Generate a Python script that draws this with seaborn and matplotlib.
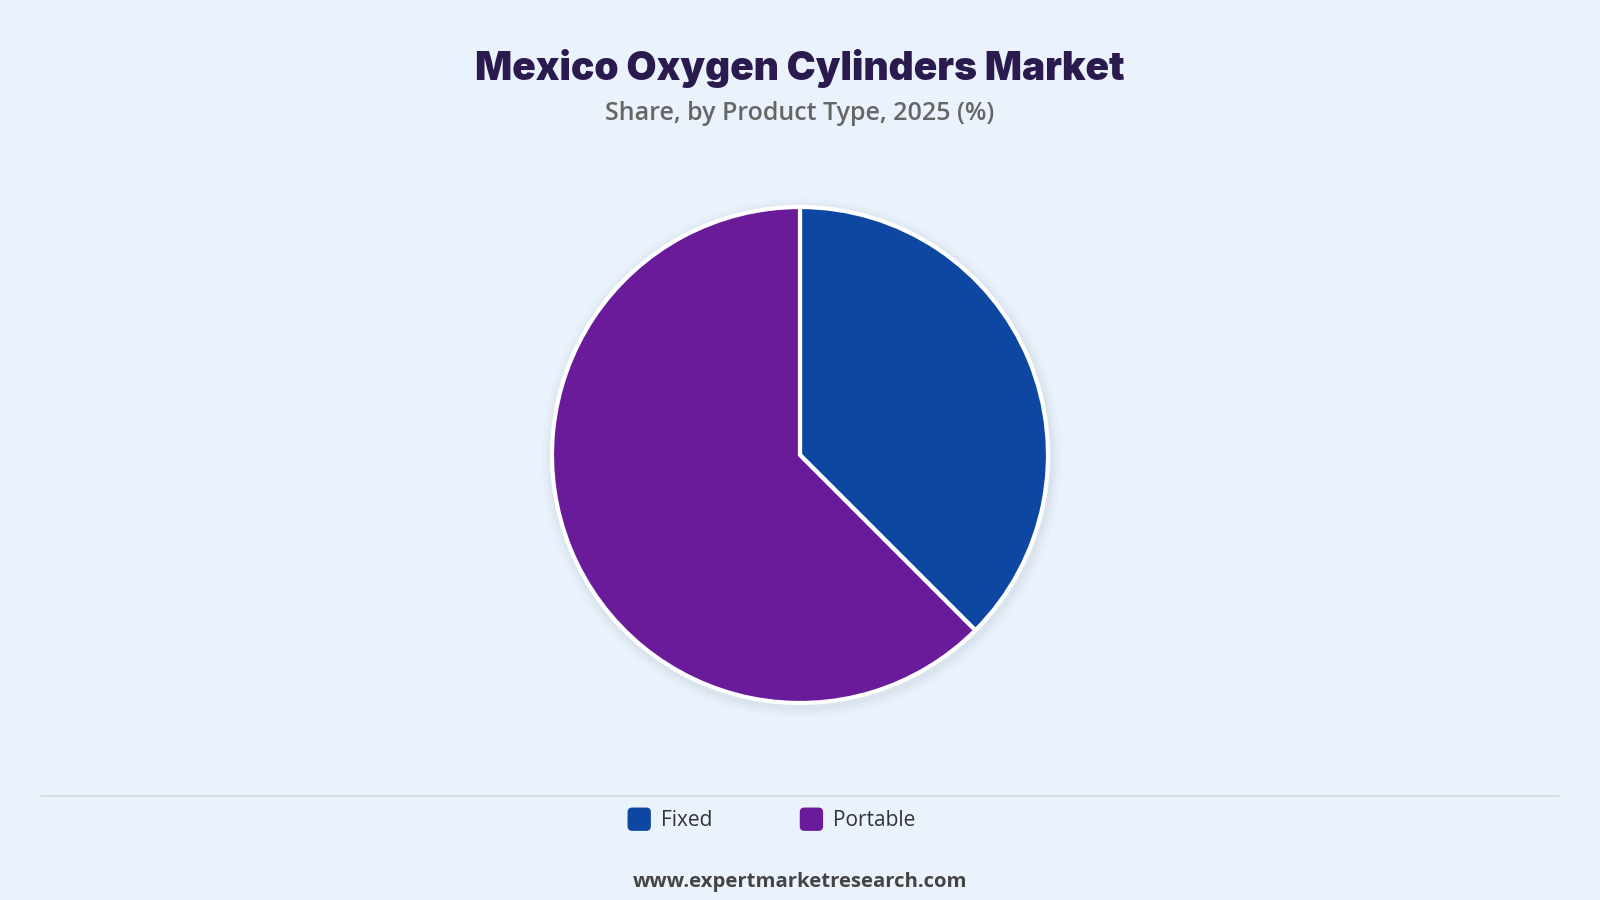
import numpy as np
import matplotlib
matplotlib.use("Agg")
import matplotlib.pyplot as plt
import seaborn as sns
from matplotlib.lines import Line2D
from matplotlib.patches import Circle, Patch, FancyBboxPatch
from matplotlib.legend_handler import HandlerPatch

# Data

categories = ["Fixed", "Portable"]
shares = [37.5, 62.5]
colors = ["#0D47A1", "#6A1B9A"]

title = "Mexico Oxygen Cylinders Market"
subtitle = "Share, by Product Type, 2025 (%)"
footer = "www.expertmarketresearch.com"

bg = "#EAF2FB"

sns.set_theme(style="white")
plt.rcParams["font.family"] = ["Open Sans", "DejaVu Sans"]


class RoundSquare(HandlerPatch):
    # rounded square legend keys
    def create_artists(self, legend, orig_handle, xdescent, ydescent,
                       width, height, fontsize, trans):
        s = fontsize * 1.12
        cx = -xdescent + width / 2
        cy = -ydescent + height / 2
        p = FancyBboxPatch(
            (cx - s / 2, cy - s / 2), s, s,
            boxstyle="round,pad=0,rounding_size=%f" % (s * 0.2),
            fc=orig_handle.get_facecolor(), ec="none", transform=trans,
        )
        return [p]


fig = plt.figure(figsize=(16, 9), dpi=100)
fig.patch.set_facecolor(bg)

# Pie axes (600x600 px, radius 1 -> 248 px)

W, H = 1600, 900
size = 600
cx, cy = 800, 455
ax = fig.add_axes([(cx - size / 2) / W, 1 - (cy + size / 2) / H, size / W, size / H])
ax.set_facecolor(bg)

# soft shadow
for r, a in [(1.045, 0.03), (1.03, 0.04), (1.018, 0.06)]:
    ax.add_patch(Circle((0.006, -0.012), r, color="#7a8aa0", alpha=a, lw=0, zorder=0))

ax.pie(
    shares,
    colors=colors,
    startangle=90,
    counterclock=False,
    radius=1,
    wedgeprops=dict(edgecolor="white", linewidth=3, joinstyle="miter"),
)

lim = (size / 2) / 248
ax.set_xlim(-lim, lim)
ax.set_ylim(-lim, lim)
ax.set_aspect("equal")
ax.axis("off")

# Titles

fig.text(0.5, 1 - 68 / H, title, ha="center", va="center",
         fontsize=28, fontweight="black", color="#2A1A4E",
         family=["Inter", "DejaVu Sans"])
fig.text(0.5, 1 - 113 / H, subtitle, ha="center", va="center",
         fontsize=18, fontweight="semibold", color="#666666")

# Divider line

fig.add_artist(Line2D([41 / W, 1559 / W], [1 - 796 / H, 1 - 796 / H],
                      color="#D3D8DE", lw=1.2))

# Legend

handles = [Patch(facecolor=c) for c in colors]
leg = fig.legend(
    handles, categories,
    loc="center", bbox_to_anchor=(0.482, 1 - 821 / H),
    ncol=2, frameon=False,
    handler_map={Patch: RoundSquare()},
    handlelength=1.15, handletextpad=0.45, columnspacing=4.2,
    prop={"size": 15},
)
for t in leg.get_texts():
    t.set_color("#333333")

# Footer

fig.text(0.5, 1 - 882 / H, footer, ha="center", va="center",
         fontsize=14.6, fontweight="bold", color="#444444")

plt.savefig("out.png", dpi=100, facecolor=bg)
